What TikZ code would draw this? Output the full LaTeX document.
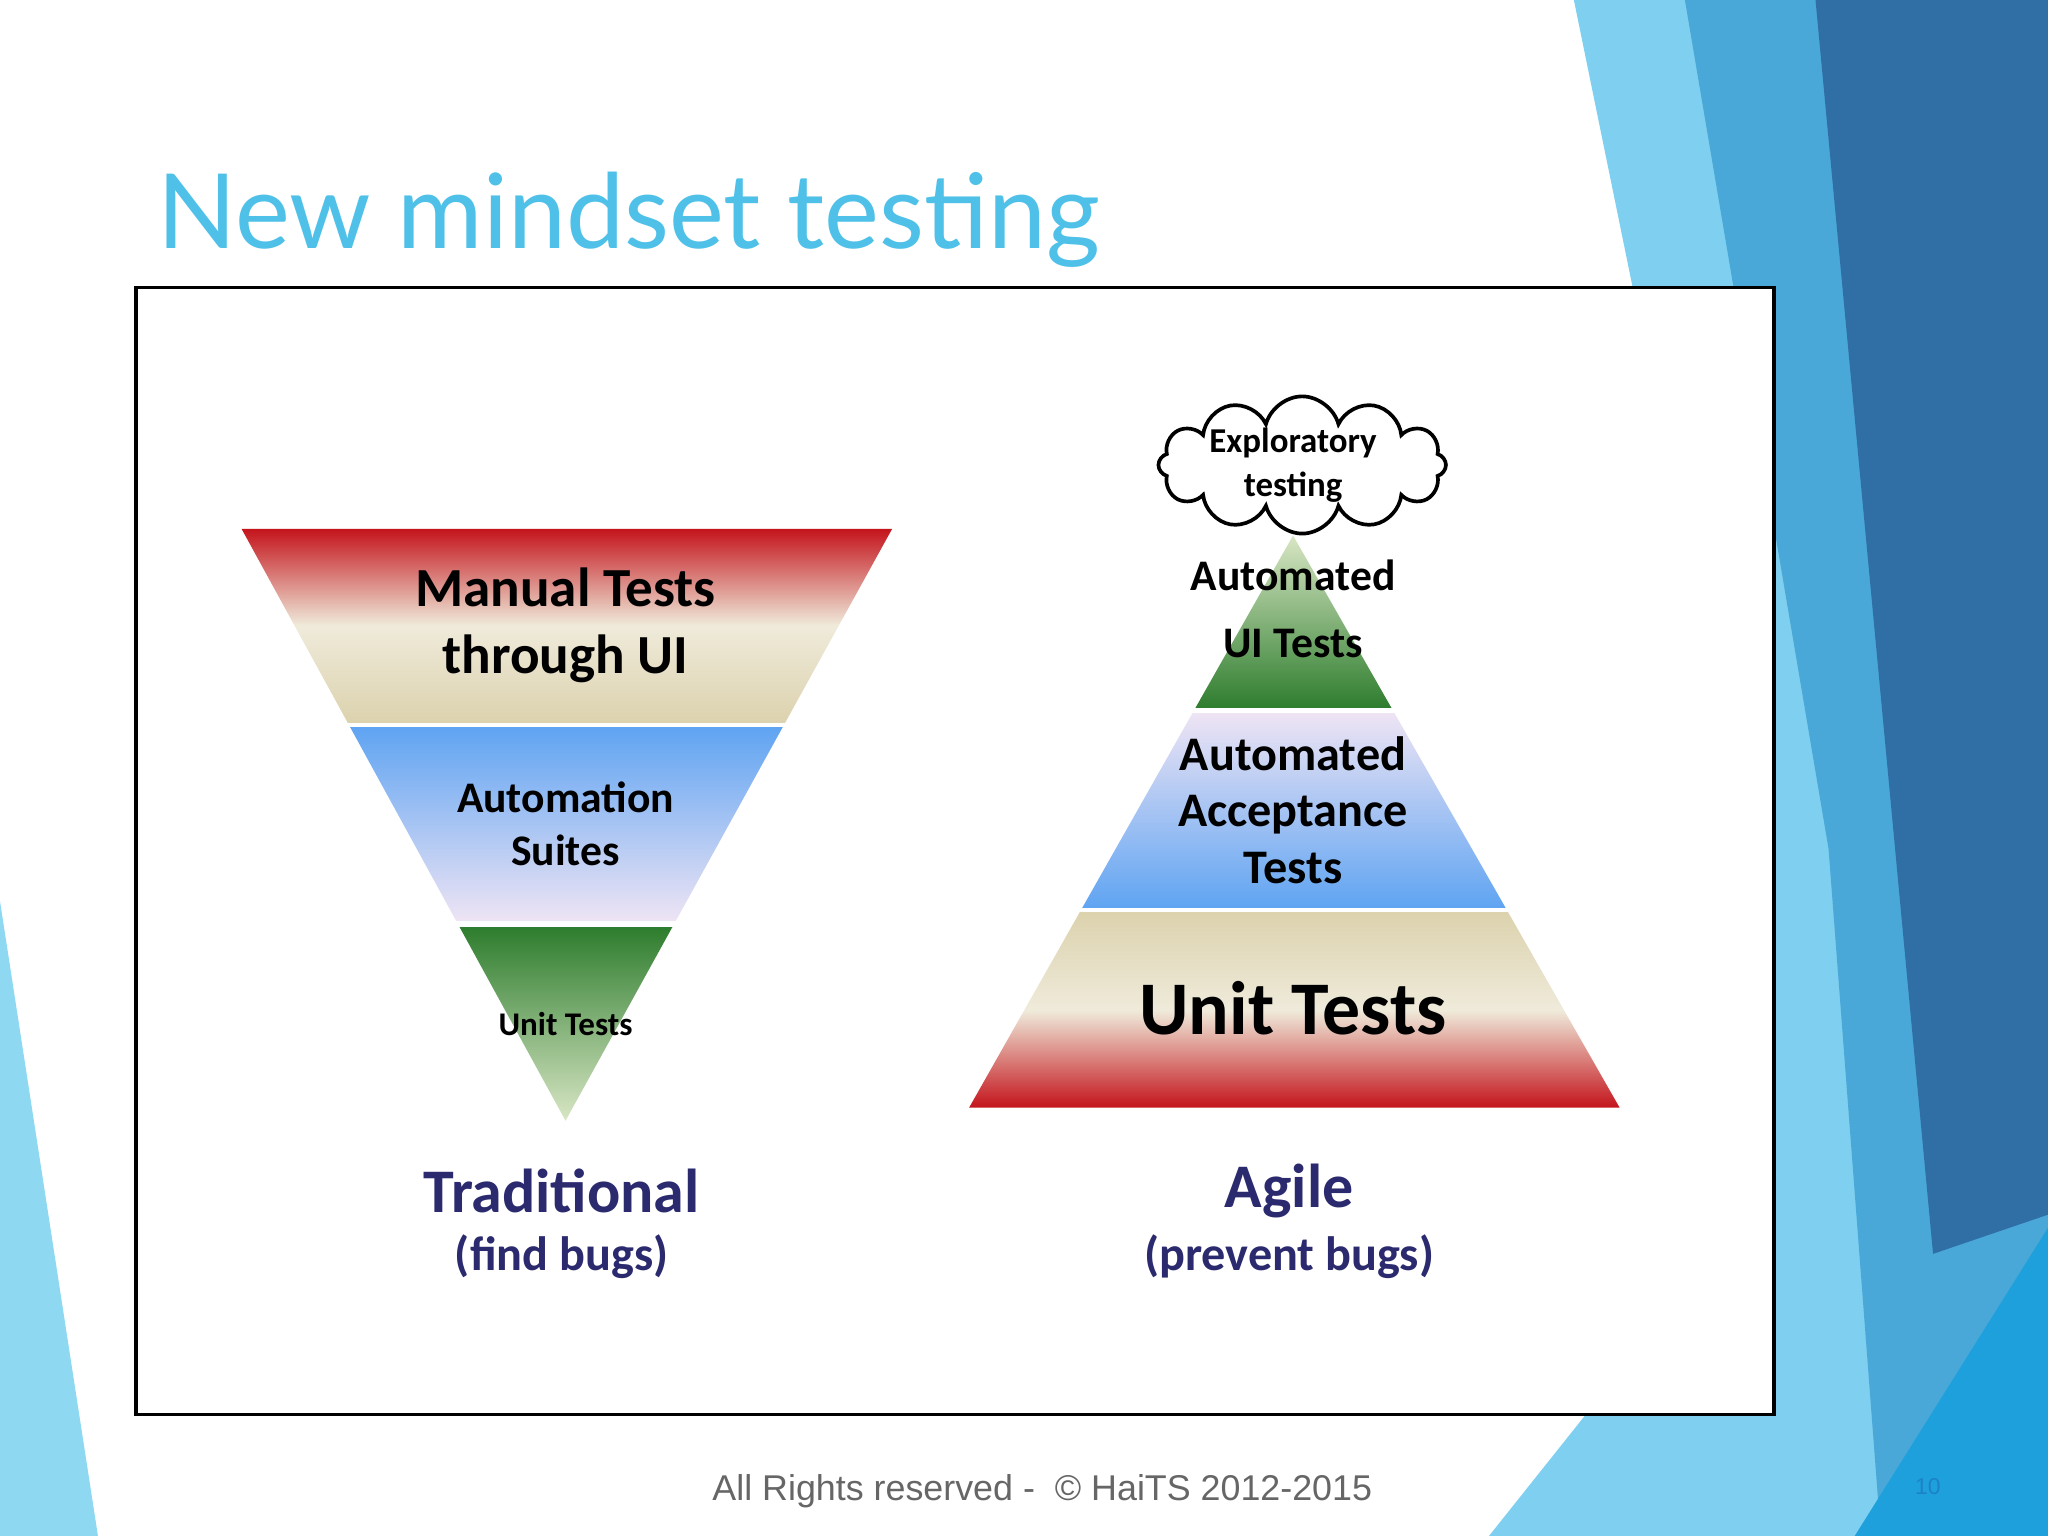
\documentclass[tikz,border=0pt]{standalone}
\usepackage{fontspec}
\setmainfont{Carlito}
\newfontfamily\titlefont{Lato}
\newfontfamily\footfont{Liberation Sans}
\usetikzlibrary{shapes.symbols}
\definecolor{navy}{HTML}{2B2A6E}
\definecolor{ttl}{HTML}{4FC1E9}
\definecolor{rd}{HTML}{C4141C}
\definecolor{bg}{HTML}{DCD2AE}
\definecolor{bl}{HTML}{5FA4F2}
\definecolor{lv}{HTML}{EEE4F4}
\definecolor{gd}{HTML}{2E7D2E}
\definecolor{gl}{HTML}{D8E6C4}
\tikzset{lbl/.style={font=\bfseries, text=black, align=center, inner sep=0pt},
 captext/.style={font=\bfseries, text=navy, align=center, inner sep=0pt}}
\begin{document}
\begin{tikzpicture}[x=0.01cm,y=-0.01cm]
\useasboundingbox (0,0) rectangle (1568,1176);
\fill[white] (0,0) rectangle (1568,1176);
% background
\fill[color={rgb,255:red,127;green,208;blue,240}] (1205,0)--(1568,0)--(1568,1176)--(1140,1176)--(1360,900)--(1250,220)--cycle;
\fill[color={rgb,255:red,74;green,168;blue,216}] (1290,0)--(1568,0)--(1568,1176)--(1440,1176)--(1400,650)--cycle;
\fill[color={rgb,255:red,47;green,111;blue,166}] (1390,0)--(1568,0)--(1568,930)--(1480,960)--cycle;
\fill[color={rgb,255:red,30;green,160;blue,220}] (1420,1176)--(1568,940)--(1568,1176)--cycle;
\fill[color={rgb,255:red,143;green,216;blue,242}] (0,690)--(75,1176)--(0,1176)--cycle;
% title
\node[anchor=base west, inner sep=0pt, text=ttl, font=\titlefont\fontsize{22.6}{27}\selectfont] (title) at (120,190) {New mindset testing};
% frame
\draw[fill=white, line width=0.8pt] (104,220) rectangle (1358,1083);
% inverted triangle
\begin{scope}
\clip (185,405)--(683,405)--(433,858)--cycle;
\shade[top color=rd, bottom color=bg, middle color=bg!45!white] (100,405) rectangle (800,553);
\shade[top color=bl, bottom color=lv] (100,557) rectangle (800,705);
\shade[top color=gd, bottom color=gl] (100,710) rectangle (800,858);
\end{scope}
% upright triangle
\begin{scope}
\clip (990,410)--(1240,848)--(742,848)--cycle;
\shade[top color=gl, bottom color=gd] (700,410) rectangle (1300,542);
\shade[top color=lv, bottom color=bl] (700,546) rectangle (1300,695);
\shade[top color=bg, bottom color=rd, middle color=bg!45!white] (700,699) rectangle (1300,848);
\end{scope}
\node[cloud, draw, cloud puffs=12, aspect=2.1, fill=white, minimum width=2.2cm, minimum height=1.05cm, line width=0.8pt] (cloud) at (997,356) {};
\node[lbl, font=\bfseries\fontsize{7.6}{9.5}\selectfont] (expl) at (990,356) {Exploratory\\testing};
% labels
\node[lbl, font=\bfseries\fontsize{12}{14.5}\selectfont] (manual) at (433,479) {Manual Tests\\through UI};
\node[lbl, font=\bfseries\fontsize{9.5}{11.5}\selectfont] (auto) at (433,631) {Automation\\Suites};
\node[lbl, font=\bfseries\fontsize{7.2}{9}\selectfont] (unitl) at (433,784) {Unit Tests};
\node[lbl, font=\bfseries\fontsize{9.5}{14.5}\selectfont] (aui) at (990,466) {Automated\\UI Tests};
\node[lbl, font=\bfseries\fontsize{10.5}{12.3}\selectfont] (aat) at (990,620) {Automated\\Acceptance\\Tests};
\node[lbl, font=\bfseries\fontsize{16.5}{20}\selectfont] (unitr) at (990,772) {Unit Tests};
\node[captext, font=\bfseries\fontsize{13.5}{16}\selectfont] (trad) at (430,912) {Traditional};
\node[captext, font=\bfseries\fontsize{10.5}{13}\selectfont] (find) at (430,962) {(find bugs)};
\node[captext, font=\bfseries\fontsize{13.5}{16}\selectfont] (agile) at (987,912) {Agile};
\node[captext, font=\bfseries\fontsize{10.5}{13}\selectfont] (prev) at (987,962) {(prevent bugs)};
% footer
\node[text=black!60, font=\footfont\fontsize{7.8}{9.5}\selectfont] (foot) at (798,1142) {All Rights reserved -\ \ © HaiTS 2012-2015};
\node[text=black!10!cyan!70!blue, font=\footfont\fontsize{5}{6}\selectfont] (pg) at (1476,1138) {10};
\end{tikzpicture}
\end{document}
